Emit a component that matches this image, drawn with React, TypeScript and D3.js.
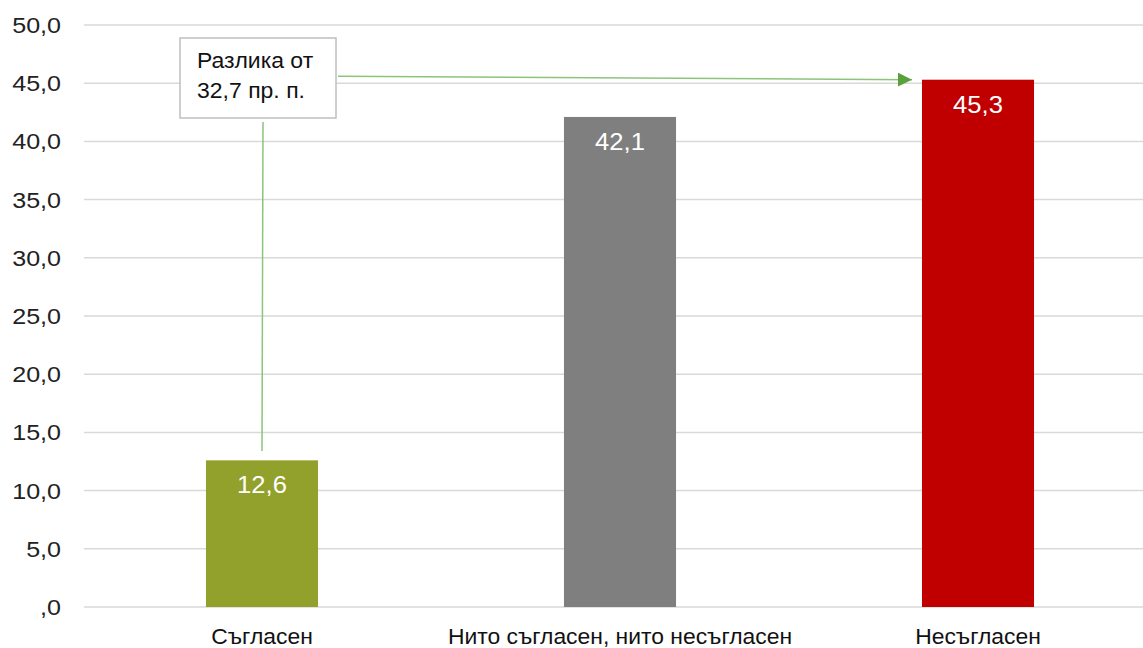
import React from "react";
import * as d3 from "d3";

const categories = ["Съгласен", "Нито съгласен, нито несъгласен", "Несъгласен"];
const values = [12.6, 42.1, 45.3];
const colors = ["#92a02c", "#7f7f7f", "#c00000"];
const yTicks = [0, 5, 10, 15, 20, 25, 30, 35, 40, 45, 50];
const annotationLines = ["Разлика от", "32,7 пр. п."];

const W = 1143;
const H = 648;
const FONT = "'Liberation Sans', Arial, sans-serif";

function SText({ x, y, sx, anchor, size, fill, children, dy }: any) {
  return (
    <text
      transform={`translate(${x},${y}) scale(${sx},1)`}
      dy={dy}
      textAnchor={anchor}
      fontFamily={FONT}
      fontSize={size}
      fill={fill}
    >
      {children}
    </text>
  );
}

export default function App() {
  const x = d3
    .scaleBand<string>()
    .domain(categories)
    .range([83, 1157])
    .paddingInner(0.687)
    .paddingOuter(0.3435);
  const y = d3.scaleLinear().domain([0, 50]).range([607, 25]);
  const fmt = (v: number) => {
    const s = v.toFixed(1).replace(".", ",");
    return s.startsWith("0,") ? s.slice(1) : s;
  };

  const bx0 = x(categories[0])! + x.bandwidth() / 2;
  const bx2 = x(categories[2])!;
  const boxX = 180, boxY = 38, boxW = 156, boxH = 80;
  const arrowY1 = y(45.6);
  const arrowY2 = y(45.3);

  return (
    <svg width={W} height={H} style={{ position: "absolute", left: 0, top: 0 }}>
      <defs>
        <marker id="arr" viewBox="0 0 10 10" refX="10" refY="5" markerWidth="14" markerHeight="14" markerUnits="userSpaceOnUse" orient="auto">
          <path d="M0,0 L10,5 L0,10 z" fill="#5aa03c" />
        </marker>
      </defs>
      <rect width={W} height={H} fill="#fff" />
      {yTicks.map((t) => (
        <g key={t}>
          <line x1={84} x2={W} y1={y(t)} y2={y(t)} stroke="#d9d9d9" strokeWidth={1.5} />
          <SText x={61} y={y(t)} dy="0.36em" anchor="end" size={22} sx={1.14} fill="#222">
            {fmt(t)}
          </SText>
        </g>
      ))}
      {categories.map((c, i) => (
        <g key={c}>
          <rect x={x(c)} y={y(values[i])} width={x.bandwidth()} height={y(0) - y(values[i])} fill={colors[i]} />
          <SText x={x(c)! + x.bandwidth() / 2} y={y(values[i]) + 33} anchor="middle" size={23.5} sx={1.09} fill="#fff">
            {fmt(values[i])}
          </SText>
          <SText x={x(c)! + x.bandwidth() / 2} y={644} anchor="middle" size={22} sx={1.04} fill="#111">
            {c}
          </SText>
        </g>
      ))}
      <line x1={bx0 + 1} x2={bx0} y1={122} y2={451} stroke="#8cc47a" strokeWidth={1.5} />
      <line x1={boxX + boxW + 2} x2={bx2 - 10} y1={arrowY1} y2={arrowY2} stroke="#8cc47a" strokeWidth={1.5} markerEnd="url(#arr)" />
      <rect x={boxX} y={boxY} width={boxW} height={boxH} fill="#fff" stroke="#bfbfbf" strokeWidth={1.5} />
      {annotationLines.map((l, i) => (
        <SText key={l} x={boxX + 17} y={boxY + 30 + i * 30} anchor="start" size={22} sx={1.045} fill="#111">
          {l}
        </SText>
      ))}
    </svg>
  );
}
